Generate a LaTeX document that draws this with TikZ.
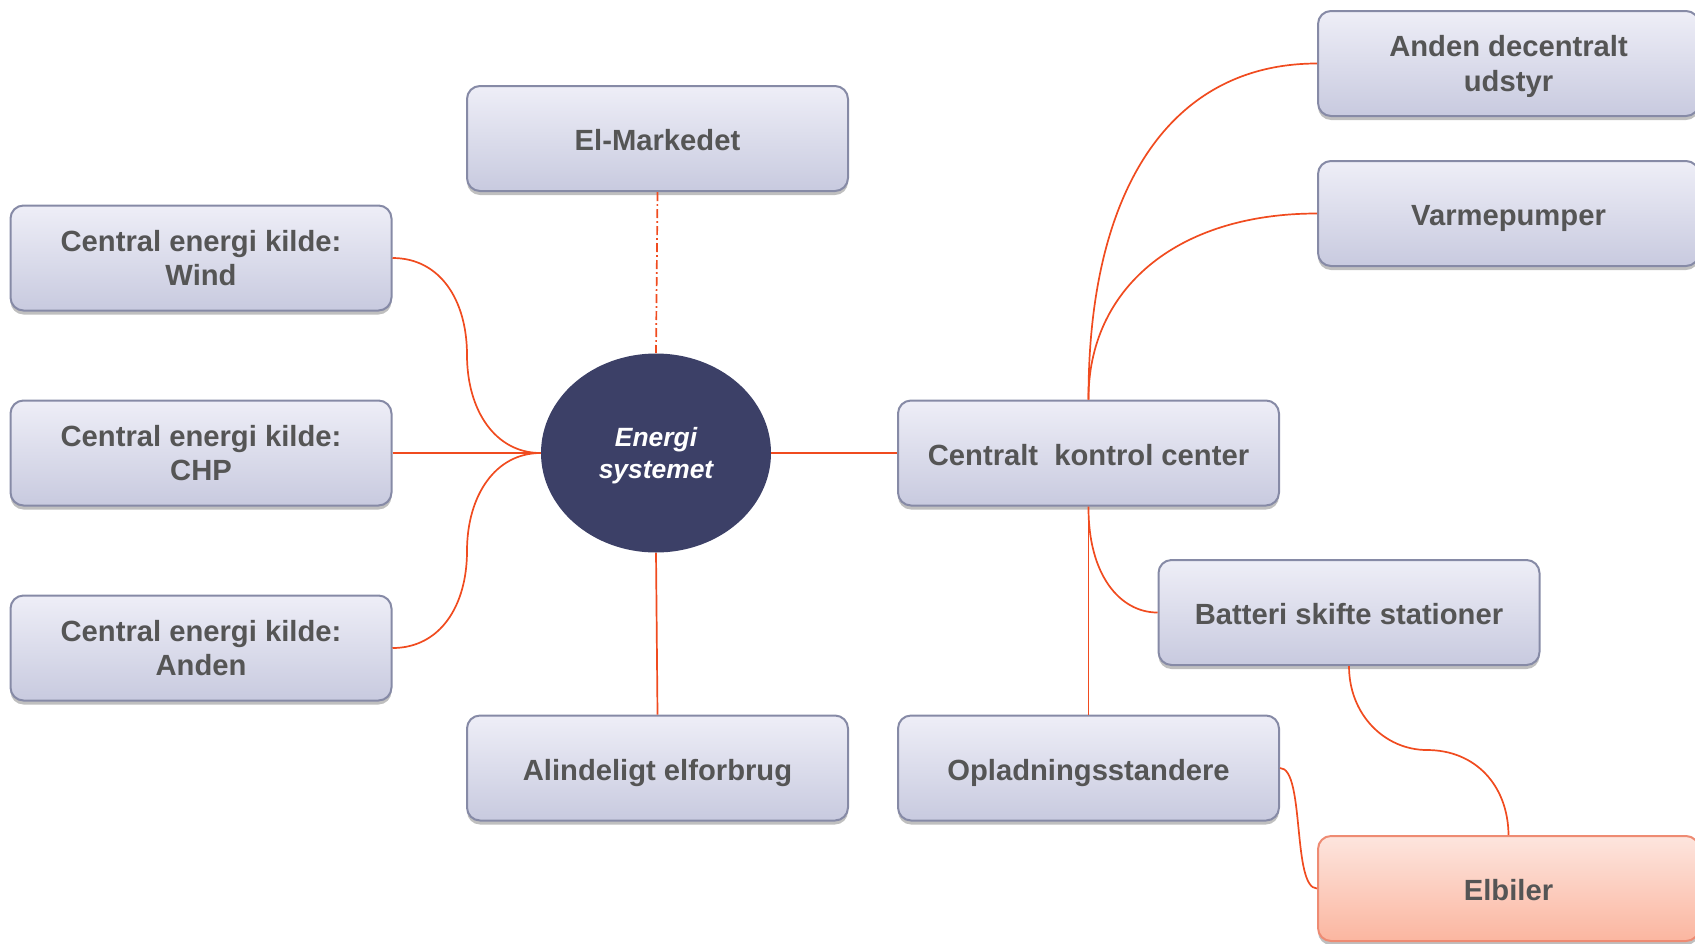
\documentclass[tikz,border=0pt]{standalone}
\usepackage{fontspec}
\setmainfont{Liberation Sans}
\usetikzlibrary{shadows,shapes.geometric}
\definecolor{boxtop}{HTML}{EEEEF7}
\definecolor{boxbot}{HTML}{C8CADF}
\definecolor{boxline}{HTML}{868AA6}
\definecolor{txt}{HTML}{555555}
\definecolor{corefill}{HTML}{3C4067}
\definecolor{cartop}{HTML}{FDE5DE}
\definecolor{carbot}{HTML}{FBB6A0}
\definecolor{carline}{HTML}{EE8B73}
\definecolor{linkcol}{HTML}{F04B1F}
\begin{document}
\begin{tikzpicture}[x=0.5pt,y=-0.5pt,
  box/.style={draw=boxline, line width=1pt, rounded corners=6.5pt,
    top color=boxtop, bottom color=boxbot,
    minimum width=190.5pt, minimum height=52.5pt, align=center,
    text=txt, font=\fontsize{14.6}{17.3}\selectfont\bfseries, inner sep=0pt,
    drop shadow={shadow xshift=0pt, shadow yshift=-2pt, opacity=0.25, fill=black}},
  oneline/.style={text height=12.4pt, text depth=0pt},
  twoline/.style={text depth=-2pt},
  carbox/.style={box, oneline, draw=carline, top color=cartop, bottom color=carbot},
  core/.style={ellipse, fill=corefill, minimum width=115pt, minimum height=99.5pt,
    inner sep=0pt, align=center, text=white, text depth=-2pt,
    font=\fontsize{13.2}{16}\selectfont\bfseries\itshape},
  link/.style={draw=linkcol, line width=0.85pt},
  dashlink/.style={link, dash pattern=on 4.5pt off 1.6pt on 0.8pt off 1.6pt}
]
\useasboundingbox (0,0) rectangle (1695,943);

% nodes
\node[box, oneline] (elm) at (657.5,138.5) {El-Markedet};
\node[box, twoline] (wind) at (201,258) {Central energi kilde:\\Wind};
\node[box, twoline] (chp) at (201,453) {Central energi kilde:\\CHP};
\node[box, twoline] (anden) at (201,648) {Central energi kilde:\\Anden};
\node[core] (ell) at (656,453) {Energi\\systemet};
\node[box, oneline] (alm) at (657.5,768) {Alindeligt elforbrug};
\node[box, oneline] (kc) at (1088.5,453) {Centralt\ \ kontrol center};
\node[box, oneline] (opl) at (1088.5,768) {Opladningsstandere};
\node[box, oneline] (bat) at (1349,612.5) {Batteri skifte stationer};
\node[box, twoline] (adu) at (1508.5,63.5) {Anden decentralt\\udstyr};
\node[box, oneline] (vp) at (1508.5,213.5) {Varmepumper};
\node[carbox] (elb) at (1508.5,888.5) {Elbiler};

% helper coordinates
\coordinate (wm) at (467,355);
\coordinate (am) at (467,551);
\coordinate (bm) at (1427,750);

% connectors
\draw[link] (wind.east) .. controls (440,258) and (467,300) .. (wm)
  .. controls (467,410) and (495,453) .. (ell.west);
\draw[link] (chp.east) -- (ell.west);
\draw[link] (anden.east) .. controls (440,648) and (467,606) .. (am)
  .. controls (467,496) and (495,453) .. (ell.west);
\draw[dashlink] (elm.south) -- (ell.north);
\draw[link] (ell.south) -- (alm.north);
\draw[link] (ell.east) -- (kc.west);
\draw[link] (kc.north) .. controls (1088,190) and (1170,63.5) .. (adu.west);
\draw[link] (kc.north) .. controls (1088,290) and (1175,213.5) .. (vp.west);
\draw[link] (kc.south) .. controls (1088,575) and (1120,612.5) .. (bat.west);
\draw[link] (kc.south) -- (opl.north);
\draw[link] (bat.south) .. controls (1349,715) and (1385,750) .. (bm)
  .. controls (1475,750) and (1508,785) .. (elb.north);
\draw[link] (opl.east) .. controls (1305,768) and (1292,888.5) .. (elb.west);
\end{tikzpicture}
\end{document}
